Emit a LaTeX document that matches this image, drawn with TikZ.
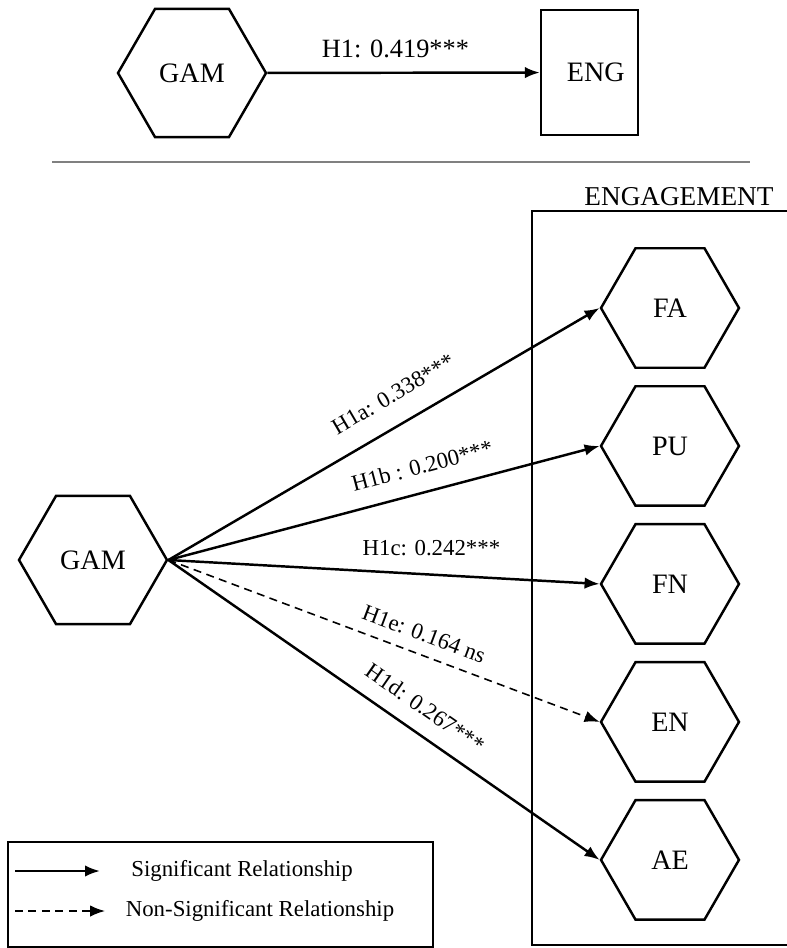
\documentclass[tikz,border=0pt]{standalone}
\usepackage{fontspec}
\setmainfont{Liberation Serif}
\usetikzlibrary{arrows.meta,shapes.geometric}

\begin{document}
\begin{tikzpicture}[x=0.02cm,y=-0.02cm,->,>={Latex[length=3mm,width=2.3mm]},line width=1.4pt,node distance=2.76cm,
  hexa/.style={draw,regular polygon,regular polygon sides=6,inner sep=0pt,minimum size=2.76cm,font=\fontsize{16}{18}\selectfont},
  lbl/.style={font=\fontsize{13}{15}\selectfont},
  legtxt/.style={font=\fontsize{13}{15}\selectfont},
  nsig/.style={dashed,line width=0.9pt,dash pattern=on 1.6mm off 1.1mm}]
%\tikzstyle{every node}=[font=\small]
  \useasboundingbox (0,0) rectangle (787,948);

  % overall model
  \node[hexa,minimum size=2.96cm] (GAM)  at (192,73)  {GAM};
  \node[draw,minimum width=1.94cm,minimum height=2.5cm,font=\fontsize{16}{18}\selectfont] (ENG) at (589.5,72.5) {\hspace{0.25cm}ENG};
  \path (GAM) edge node[above=0.16cm,font=\fontsize{15}{17}\selectfont,pos=0.47] {H1: 0.419***} (ENG);

  \draw[-,gray,line width=0.8pt] (52,162) -- (750,162);

  % dimensions of engagement
  \draw[-] (787,211) -- (532,211) -- (532,945) -- (787,945);
  \node[font=\fontsize{15.5}{17}\selectfont] (engt) at (679,197) {ENGAGEMENT};

  \node[hexa,minimum size=2.96cm] (GAMb) at (93,560) {GAM};
  \node[hexa] (FA) at (670,308) {FA};
  \node[hexa] (PU) [below of=FA] {PU};
  \node[hexa] (FN) [below of=PU] {FN};
  \node[hexa] (EN) [below of=FN] {EN};
  \node[hexa] (AE) [below of=EN] {AE};

  \path (GAMb.east) edge node[lbl,sloped,above=0.30cm,pos=0.556] {H1a: 0.338***}  (FA.west)
                    edge node[lbl,sloped,above=0.22cm,pos=0.604] {H1b : 0.200***} (PU.west)
                    edge node[lbl,above=0.24cm,pos=0.61]         {H1c: 0.242***}  (FN.west)
                    edge[nsig] node[lbl,sloped,above=0.12cm,pos=0.576] {H1e: 0.164 ns} (EN.west)
                    edge node[lbl,sloped,above=0.20cm,pos=0.562] {H1d: 0.267***}  (AE.west);

  % legend
  \draw[-,line width=0.9pt] (8,842) rectangle (433,947);
  \coordinate (s0) at (15,871);
  \coordinate (s1) at (100,871);
  \coordinate (n0) at (15,911);
  \coordinate (n1) at (105,911);
  \node[legtxt] (sig)  at (242,871) {Significant Relationship};
  \node[legtxt] (nsg)  at (260,911) {Non-Significant Relationship};
  \draw (s0) -- (s1);
  \draw[nsig] (n0) -- (n1);
\end{tikzpicture}
\end{document}
